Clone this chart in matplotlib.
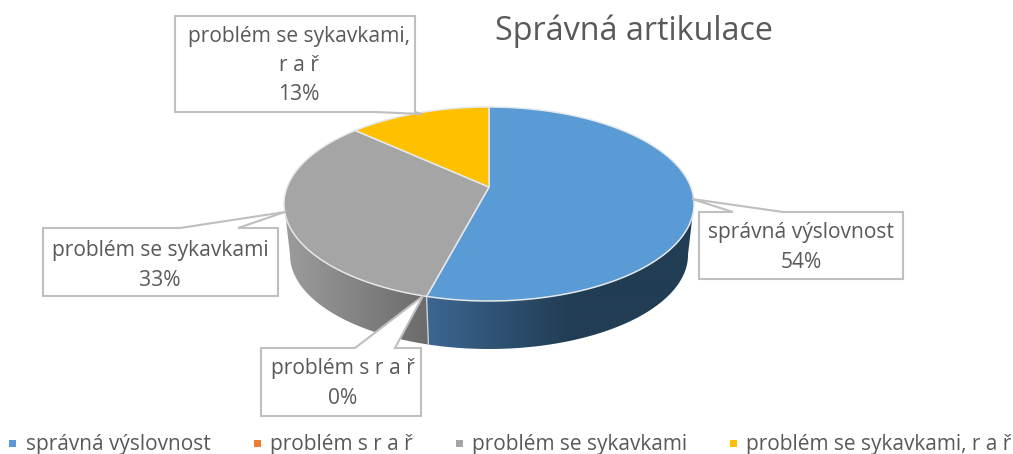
# -*- coding: utf-8 -*-
import numpy as np
import matplotlib.pyplot as plt
from matplotlib.colors import to_rgb
from matplotlib.patches import Polygon, Rectangle

plt.rcParams['font.family'] = ['Open Sans', 'DejaVu Sans']

labels = ['správná výslovnost', 'problém s r a ř', 'problém se sykavkami', 'problém se sykavkami, r a ř']
values = [54, 0, 33, 13]
colors = ['#5b9bd5', '#ed7d31', '#a5a5a5', '#ffc000']
wall_left = ['#3d6792', '#ed7d31', '#9c9c9c', '#ffc000']
wall_right = ['#213d53', '#ed7d31', '#6c6c6c', '#ffc000']
wall_span = [(424, 570), (0, 1), (285, 424), (0, 1)]
title = 'Správná artikulace'

# pie geometry in pixels of the picture
cx, cy, a, b = 489.0, 204.0, 205.0, 97.0
apex_y = 187.0
squash = 0.45
a2, cy2, b2 = 199.0, 255.0, 94.0
text_col = '#595959'
edge_col = '#bfbfbf'


def rim_phi(theta):
    """ray from the apex (theta clockwise from north) to the top ellipse, returns ellipse angle"""
    dx = np.sin(theta)
    dy = -np.cos(theta) * squash
    y0 = apex_y - cy
    qa = (dx / a) ** 2 + (dy / b) ** 2
    qb = 2 * y0 * dy / b ** 2
    qc = (y0 / b) ** 2 - 1
    s = (-qb + np.sqrt(qb ** 2 - 4 * qa * qc)) / (2 * qa)
    return np.arctan2((y0 + dy * s) / b, dx * s / a)


def top_pt(phi):
    return cx + a * np.cos(phi), cy + b * np.sin(phi)


def low_pt(phi):
    return cx + a2 * np.cos(phi), cy2 + b2 * np.sin(phi)


fig = plt.figure(figsize=(10.13, 4.54), dpi=100)
ax = fig.add_axes([0, 0, 1, 1])

edges = np.cumsum([0] + values) / sum(values) * 2 * np.pi

# side wall first: a horizontal gradient clipped to the visible wall
for i in range(len(values)):
    if values[i] == 0:
        continue
    thetas = np.linspace(edges[i], edges[i + 1], 300)
    phis = np.array([rim_phi(t) for t in thetas])
    phis = phis[np.sin(phis) >= -0.01]
    if len(phis) < 2:
        continue
    wall = [top_pt(p) for p in phis] + [low_pt(p) for p in phis[::-1]]
    patch = Polygon(wall, closed=True, fc='none', ec='none', transform=ax.transData)
    ax.add_patch(patch)
    x0, x1 = wall_span[i]
    f = np.clip((np.arange(1013) - x0) / (x1 - x0), 0, 1)[None, :, None]
    grad = np.array(to_rgb(wall_left[i]))[None, None, :] * (1 - f) + np.array(to_rgb(wall_right[i]))[None, None, :] * f
    im = ax.imshow(grad, extent=(0, 1013, 454, 0), aspect='auto', zorder=2, interpolation='bilinear')
    im.set_clip_path(patch)

ax.set_xlim(0, 1013)
ax.set_ylim(454, 0)
ax.axis('off')

# divider on the front wall
ph = rim_phi(edges[1])
ax.plot(*zip(top_pt(ph), low_pt(ph)), color='#c8d0d8', lw=1, zorder=3)

# top face
for i in range(len(values)):
    if values[i] == 0:
        continue
    thetas = np.linspace(edges[i], edges[i + 1], 200)
    rim = [top_pt(rim_phi(t)) for t in thetas]
    ax.add_patch(Polygon([(cx, apex_y)] + rim, closed=True, fc=colors[i], ec='#e4e8ec', lw=1.1, zorder=4))

# callouts: box, leader, text
callouts = [
    ((699, 212, 903, 279), (692, 199), (783, 733), 'top', 'správná výslovnost\n54%', (801, 247.5)),
    ((261, 348, 421, 416), (423, 296), (395, 355), 'top', 'problém s r a ř\n0%', (343, 383.5)),
    ((43, 228, 278, 296), (285, 212), (238, 180), 'top', 'problém se sykavkami\n33%', (160, 265.5)),
    ((175, 16, 415, 112), (422, 114), (415, 375), 'bottom', 'problém se sykavkami,\nr a ř\n13%', (299, 65.5)),
]
for box, tip, (k1, k2), side, txt, pos in callouts:
    x0, y0, x1, y1 = box
    if side == 'top':
        pts = [(x0, y0), (min(k1, k2), y0), tip, (max(k1, k2), y0), (x1, y0), (x1, y1), (x0, y1)]
    else:
        pts = [(x0, y0), (x1, y0), (x1, y1), tip, (k2, y1), (x0, y1)]
    ax.add_patch(Polygon(pts, closed=True, fc='white', ec=edge_col, lw=1.5, zorder=6))
    ax.text(pos[0], pos[1], txt, ha='center', va='center', fontsize=15.1, color=text_col,
            linespacing=1.52, zorder=7)

ax.text(634, 31.5, title, ha='center', va='center', fontsize=23.2, color=text_col, zorder=7)

# legend
square_x = [9, 254, 456, 730]
text_x = [26, 270, 472, 746]
for i in range(len(labels)):
    ax.add_patch(Rectangle((square_x[i], 439.5), 7, 7, fc=colors[i], ec='none', zorder=7))
    ax.text(text_x[i], 444.5, labels[i], ha='left', va='center', fontsize=15, color=text_col, zorder=7)

fig.savefig('out.png', dpi=100)
plt.close('all')
